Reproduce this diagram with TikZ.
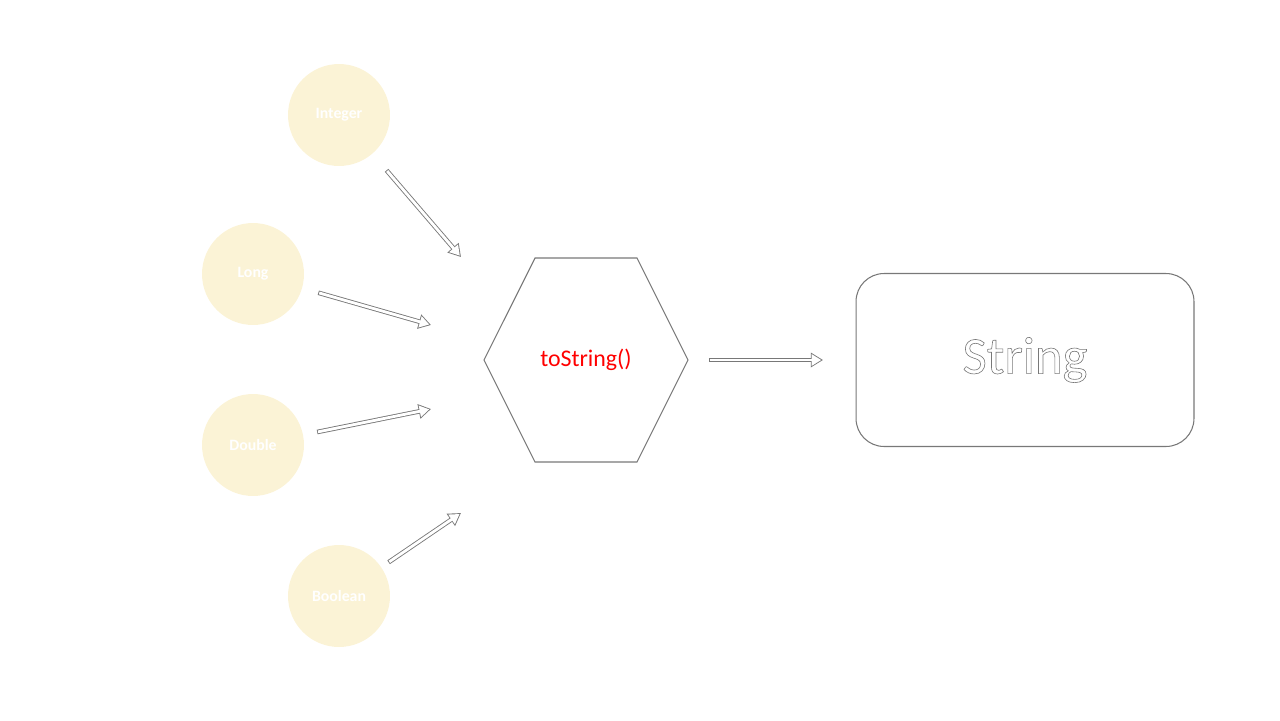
\documentclass[tikz,border=0pt]{standalone}
\usepackage{fontspec}
\setmainfont{Carlito}
\usepackage{xcolor}
\usepackage{tikz}
\usetikzlibrary{arrows, arrows.meta, calc}
\definecolor{typefill}{RGB}{251,243,214}
\definecolor{linegray}{RGB}{120,120,120}
\newcommand{\hollowtext}[1]{\special{pdf:literal 1 Tr 0.35 w}#1\special{pdf:literal 0 Tr}}

\begin{document}
\begin{tikzpicture}[x=0.02cm, y=-0.02cm,
  typebox/.style={circle, fill=typefill, minimum size=2.04cm, inner sep=0pt, outer sep=0pt, text=white, font=\fontsize{9}{11}\selectfont\bfseries},
  hexbox/.style={minimum width=4.08cm, minimum height=4.08cm, inner sep=0pt, outer sep=0pt, text=red, font=\fontsize{13.6}{16}\selectfont},
  hexline/.style={draw=linegray, line width=0.6pt, line join=miter},
  strbox/.style={draw=linegray, line width=0.6pt, rounded corners=0.56cm, minimum width=6.76cm, minimum height=3.46cm, inner sep=0pt, outer sep=0pt, text=linegray, font=\fontsize{30}{34}\selectfont},
  hollow/.style 2 args={draw=linegray, line width=2.6pt, -{Triangle[length=7pt, width=8pt]}, shorten <=#1, shorten >=#2,
    postaction={draw=white, line width=1.6pt, -{Triangle[length=5.5pt, width=6.3pt]}, shorten <=#1+0.5pt, shorten >=#2+1pt}}]
\useasboundingbox (0,0) rectangle (1280,720);
% input types
\node[typebox] (int) at (339,115) {Integer};
\node[typebox] (lng) at (253,274) {Long};
\node[typebox] (dbl) at (253,445) {Double};
\node[typebox] (bool) at (339,596) {Boolean};
% conversion
\node[hexbox] (hex) at (586,360) {toString()};
\draw[hexline] (hex.west) -- ($(hex.north west)+(51,0)$) -- ($(hex.north east)+(-51,0)$) -- (hex.east)
  -- ($(hex.south east)+(-51,0)$) -- ($(hex.south west)+(51,0)$) -- cycle;
% result
\node[strbox] (str) at (1025,360) {\hollowtext{String}};
% arrows
\coordinate (in-int) at (461,257);
\coordinate (in-lng) at (431,325);
\coordinate (in-dbl) at (431,409);
\coordinate (in-bool) at (461,513);
\draw[hollow={0.44cm}{0pt}] (int) -- (in-int);
\draw[hollow={0.34cm}{0pt}] (lng) -- (in-lng);
\draw[hollow={0.29cm}{0pt}] (dbl) -- (in-dbl);
\draw[hollow={0.18cm}{0pt}] (bool) -- (in-bool);
\draw[hollow={0.42cm}{0.66cm}] (hex) -- (str);
\end{tikzpicture}
\end{document}
